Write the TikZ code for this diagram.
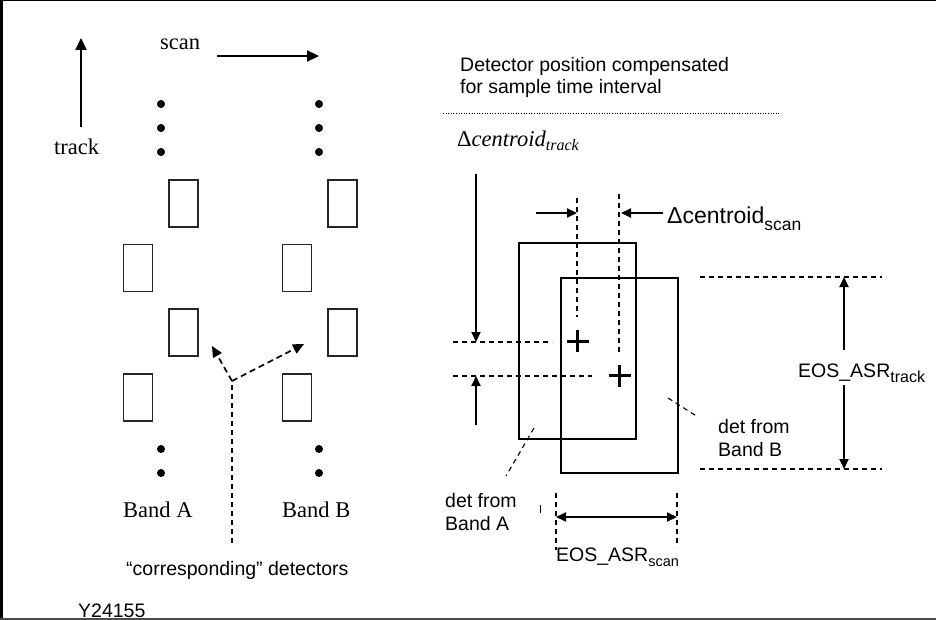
\documentclass[tikz,border=0pt]{standalone}
\usepackage{fontspec}
\setmainfont{Liberation Serif}
\setsansfont{Liberation Sans}
\usetikzlibrary{arrows.meta}

% lowered subscript: #1 drop, #2 size, #3 text
\newcommand{\lowsub}[3]{\raisebox{-#1pt}{\fontsize{#2}{#2}\selectfont #3}}

\tikzset{
  serif/.style={font=\fontsize{22.5}{26}\selectfont\rmfamily, inner sep=0pt, anchor=base west},
  sans/.style={font=\fontsize{19.5}{23}\selectfont\sffamily, inner sep=0pt, anchor=base west},
  pixdet/.style={draw=black!85, line width=1.6pt, minimum width=29pt, minimum height=47pt, inner sep=0pt},
  bigdet/.style={draw=black, line width=2.2pt, minimum width=117pt, inner sep=0pt},
  dotmark/.style={circle, fill=black, minimum size=8pt, inner sep=0pt},
  bigarrow/.style={line width=2.2pt, -{Triangle[length=12pt,width=11pt]}},
  arr/.style={line width=2.1pt, -{Triangle[length=10pt,width=9pt]}},
  dasharr/.style={line width=1.7pt, dash pattern=on 6pt off 4pt, -{Triangle[length=11pt,width=10pt]}},
  dashline/.style={line width=1.3pt, dash pattern=on 5pt off 4pt},
  plusmark/.style={line width=3pt},
}

\begin{document}
\begin{tikzpicture}[x=1pt,y=-1pt]
\useasboundingbox (0,0) rectangle (936,620);

% frame
\draw[line width=1.5pt] (0,0.75) -- (936,0.75);
\draw[line width=3pt] (1.5,0) -- (1.5,620);
\draw[line width=1.5pt, black!70] (0,619) -- (936,619);

% ---------- left panel: detector layout ----------
\coordinate (trk0) at (81,127);
\coordinate (trk1) at (81,38);
\draw[bigarrow] (trk0) -- (trk1);
\node[serif] (tracklbl) at (54,155) {track};

\node[serif] (scanlbl) at (160,50) {scan};
\coordinate (scn0) at (217,56);
\coordinate (scn1) at (319,56);
\draw[bigarrow] (scn0) -- (scn1);

% continuation dots
\foreach \y [count=\i] in {104,128,152,449,473} {
  \node[dotmark] (dA\i) at (161,\y) {};
  \node[dotmark] (dB\i) at (319,\y) {};
}

% band A detectors
\node[pixdet] (a1) at (183.5,203.5) {};
\node[pixdet] (a2) at (138,268) {};
\node[pixdet] (a3) at (183.5,332.5) {};
\node[pixdet] (a4) at (138,397.5) {};
% band B detectors
\node[pixdet] (b1) at (342.5,203.5) {};
\node[pixdet] (b2) at (297,268) {};
\node[pixdet] (b3) at (342.5,332.5) {};
\node[pixdet] (b4) at (297,397.5) {};

\node[serif] (bandA) at (123,517) {Band A};
\node[serif] (bandB) at (282,517) {Band B};

% pointers to corresponding detectors
\coordinate (cv) at (232,381);
\coordinate (cvA) at (212,346);
\coordinate (cvB) at (304,344);
\coordinate (cvBot) at (232,543);
\draw[dashline, line width=1.6pt] (cvBot) -- (cv);
\draw[dasharr] (cv) -- (cvA);
\draw[dasharr] (cv) -- (cvB);
\node[sans] (corr) at (126,575) {“corresponding” detectors};

\node[sans] (fig) at (78,617) {Y24155};

% ---------- right panel: compensated positions ----------
\node[sans] (title1) at (460,72) {Detector position compensated};
\node[sans] (title2) at (460,94) {for sample time interval};
\coordinate (dot0) at (443,113);
\coordinate (dot1) at (779,113);
\draw[line width=0.8pt, dash pattern=on 1pt off 1.6pt] (dot0) -- (dot1);

\node[serif] (dtrack) at (457,147) {Δ\textit{centroid}\lowsub{4}{16}{\itshape track}};

% the two detector footprints
\node[bigdet, minimum height=196pt] (detA) at (577.5,341) {};
\node[bigdet, minimum height=195pt] (detB) at (619.5,375.5) {};

% centroid marks
\draw[plusmark] ([xshift=-11pt]detA.center) -- ([xshift=11pt]detA.center);
\draw[plusmark] ([yshift=-11pt]detA.center) -- ([yshift=11pt]detA.center);
\draw[plusmark] ([xshift=-11pt]detB.center) -- ([xshift=11pt]detB.center);
\draw[plusmark] ([yshift=-11pt]detB.center) -- ([yshift=11pt]detB.center);

% track offset
\coordinate (hA0) at (453,342);
\coordinate (hA1) at (552,342);
\coordinate (hB0) at (453,376);
\coordinate (hB1) at (592,376);
\draw[dashline] (hA0) -- (hA1);
\draw[dashline] (hB0) -- (hB1);
\coordinate (tdn0) at (476,174);
\coordinate (tdn1) at (476,342);
\coordinate (tup0) at (476,425);
\coordinate (tup1) at (476,376);
\draw[arr] (tdn0) -- (tdn1);
\draw[arr] (tup0) -- (tup1);

% scan offset
\coordinate (vA0) at (577,198);
\coordinate (vA1) at (577,317);
\coordinate (vB0) at (619,194);
\coordinate (vB1) at (619,353);
\draw[dashline] (vA0) -- (vA1);
\draw[dashline] (vB0) -- (vB1);
\coordinate (sR0) at (536,213);
\coordinate (sR1) at (577,213);
\coordinate (sL0) at (663,213);
\coordinate (sL1) at (621,213);
\draw[arr] (sR0) -- (sR1);
\draw[arr] (sL0) -- (sL1);
\node[sans, font=\fontsize{23}{26}\selectfont\sffamily] (dscan) at (667,224) {Δcentroid\lowsub{7}{17.5}{scan}};

% track size
\coordinate (eT0) at (700,277);
\coordinate (eT1) at (882,277);
\coordinate (eB0) at (700,469);
\coordinate (eB1) at (882,469);
\draw[dashline] (eT0) -- (eT1);
\draw[dashline] (eB0) -- (eB1);
\coordinate (up0) at (844,350);
\coordinate (up1) at (844,277);
\coordinate (dn0) at (844,385);
\coordinate (dn1) at (844,469);
\draw[arr] (up0) -- (up1);
\draw[arr] (dn0) -- (dn1);
\node[sans] (asrtrack) at (798,377) {EOS\_ASR\lowsub{5}{16}{track}};

% labels for the two footprints
\coordinate (lB0) at (668,398);
\coordinate (lB1) at (698,417);
\draw[dashline, line width=1.1pt] (lB0) -- (lB1);
\node[sans] (detB1) at (718,433) {det from};
\node[sans] (detB2) at (718,456) {Band B};

\coordinate (lA0) at (534,428);
\coordinate (lA1) at (506,476);
\draw[dashline, line width=1.1pt] (lA0) -- (lA1);
\node[sans] (detA1) at (445,507) {det from};
\node[sans] (detA2) at (445,530) {Band A};

\coordinate (tk0) at (540,505);
\coordinate (tk1) at (540,513);
\draw[line width=0.8pt] (tk0) -- (tk1);

% scan size
\coordinate (sw0) at (556,493);
\coordinate (sw1) at (556,550);
\coordinate (se0) at (677,493);
\coordinate (se1) at (677,547);
\draw[dashline] (sw0) -- (sw1);
\draw[dashline] (se0) -- (se1);
\coordinate (ss0) at (556,517);
\coordinate (ss1) at (677,517);
\draw[line width=2.1pt, {Triangle[length=10pt,width=9pt]}-{Triangle[length=10pt,width=9pt]}] (ss0) -- (ss1);
\node[sans] (asrscan) at (556,561) {EOS\_ASR\lowsub{5}{14.5}{scan}};

\end{tikzpicture}
\end{document}
